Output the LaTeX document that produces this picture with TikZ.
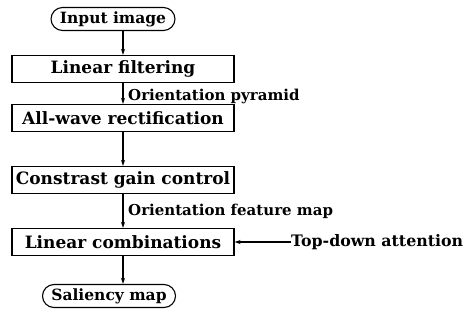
\documentclass[tikz,border=0pt]{standalone}
\usepackage{fontspec}
\setmainfont{DejaVu Serif}
\usetikzlibrary{shapes.misc,arrows.meta}
\tikzset{
  lbl/.style={font=\fontsize{15.5}{18}\selectfont\bfseries},
  stagebox/.style={draw, line width=1.1pt, minimum width=222pt, minimum height=27pt, inner sep=0pt,
    font=\fontsize{17}{20}\selectfont\bfseries},
  termbox/.style={draw, line width=1.1pt, rounded rectangle, minimum height=23pt, inner xsep=6pt, inner ysep=0pt},
  flow/.style={line width=1.1pt, -{Stealth[length=6pt,width=4pt]}},
  note/.style={anchor=west, inner sep=0pt, font=\fontsize{15}{18}\selectfont\bfseries}
}
\begin{document}
\begin{tikzpicture}[x=1pt,y=-1pt,every node/.append style={lbl}]
  \useasboundingbox (0,0) rectangle (473,327);
  \node[termbox] (in) at (113,19) {Input image};
  \node[stagebox] (lf) at (123,69) {Linear filtering};
  \node[stagebox] (aw) at (123,118) {All-wave rectification};
  \node[stagebox] (cg) at (123,180) {Constrast gain control};
  \node[stagebox] (lc) at (123,242) {Linear combinations};
  \node[termbox] (sm) at (109,296) {Saliency map};
  \coordinate (td) at (291,242);
  \node[note, font=\fontsize{15.8}{18}\selectfont\bfseries] (tdl) at (td) {Top-down attention};
  \draw[flow] (in.south -| lf.north) -- (lf.north);
  \draw[flow] (lf) -- (aw);
  \draw[flow] (aw) -- (cg);
  \draw[flow] (cg) -- (lc);
  \draw[flow] (lc.south) -- (lc.south |- sm.north);
  \draw[flow] (tdl.west) -- (lc.east);
  \node[note] (op) at (128,96) {Orientation pyramid};
  \node[note] (of) at (128,211) {Orientation feature map};
\end{tikzpicture}
\end{document}
